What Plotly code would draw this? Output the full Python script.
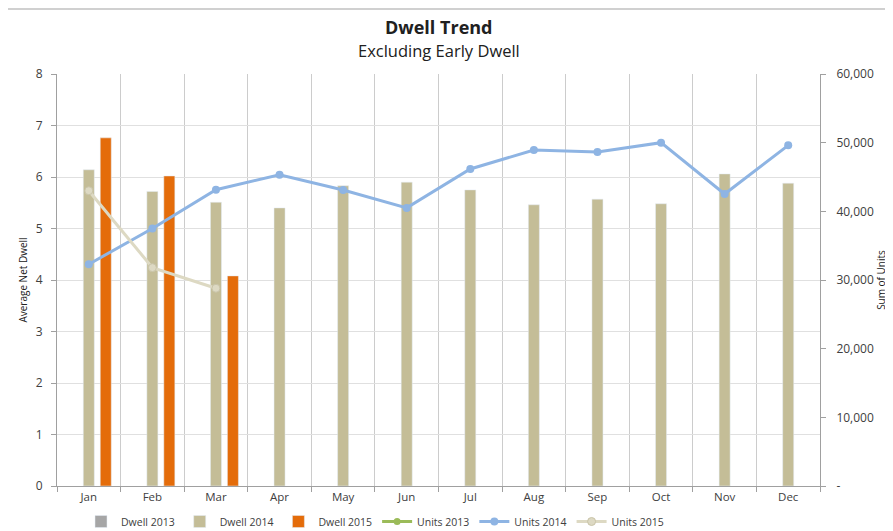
import plotly.graph_objects as go

months = ["Jan", "Feb", "Mar", "Apr", "May", "Jun", "Jul", "Aug", "Sep", "Oct", "Nov", "Dec"]
dwell_2013 = [None] * 12
dwell_2014 = [6.14, 5.72, 5.51, 5.40, 5.83, 5.90, 5.75, 5.46, 5.57, 5.48, 6.06, 5.88]
dwell_2015 = [6.76, 6.02, 4.08, None, None, None, None, None, None, None, None, None]
units_2013 = [None] * 12
units_2014 = [32300, 37500, 43150, 45340, 43100, 40500, 46170, 48930, 48640, 50000, 42520, 49610]
units_2015 = [43000, 31800, 28800, None, None, None, None, None, None, None, None, None]
right_ticks = [0, 10000, 20000, 30000, 40000, 50000, 60000]
right_labels = ["-", "10,000", "20,000", "30,000", "40,000", "50,000", "60,000"]

FONT = "Open Sans"
W, H = 885, 523
L, R, T, B = 49, 73, 66, 45
PW, PH = W - L - R, H - T - B

fig = go.Figure()
fig.add_trace(go.Bar(x=months, y=dwell_2013, name="Dwell 2013", marker_color="#A6A6A6"))
fig.add_trace(go.Bar(x=months, y=dwell_2014, name="Dwell 2014", marker_color="#C4BD97"))
fig.add_trace(go.Bar(x=months, y=dwell_2015, name="Dwell 2015", marker_color="#E46C0A"))
fig.add_trace(go.Scatter(x=months, y=units_2013, name="Units 2013", yaxis="y2", mode="lines+markers",
                         line=dict(color="#9BBB59", width=3), marker=dict(size=7)))
fig.add_trace(go.Scatter(x=months, y=units_2014, name="Units 2014", yaxis="y2", mode="lines+markers",
                         line=dict(color="#8EB4E3", width=3), marker=dict(size=8)))
fig.add_trace(go.Scatter(x=months, y=units_2015, name="Units 2015", yaxis="y2", mode="lines+markers",
                         line=dict(color="#DDD9C3", width=3), marker=dict(size=8, line=dict(color="#C9C4A8", width=1))))

fig.update_layout(
    width=W, height=H,
    margin=dict(l=L, r=R, t=T, b=B, autoexpand=False),
    paper_bgcolor="white", plot_bgcolor="white",
    font=dict(family=FONT, size=11, color="#404040"),
    barmode="group", bargap=0.2, bargroupgap=0.35,
    showlegend=True,
    legend=dict(orientation="h", x=(375 - 8 - L) / PW, xanchor="center", y=-21 / PH, yanchor="top",
                font=dict(size=10.5, color="#404040"), traceorder="normal", itemwidth=30),
    xaxis=dict(type="category", range=[-0.5, 11.5], autorange=False, tickson="boundaries",
               showgrid=True, gridcolor="#CCCCCC", automargin=False,
               showline=True, linecolor="#A0A0A0", ticks="outside", ticklen=5, tickcolor="#A0A0A0",
               tickfont=dict(size=11.5)),
    yaxis=dict(range=[0, 8], dtick=1, showgrid=True, gridcolor="#E0E0E0", zeroline=False, automargin=False,
               showline=True, linecolor="#A0A0A0", ticks="outside", ticklen=5, tickcolor="#A0A0A0",
               ticklabelstandoff=6, tickfont=dict(size=12),
               title=dict(text="Average Net Dwell", font=dict(size=10, color="#202020"), standoff=6)),
    yaxis2=dict(range=[0, 60000], overlaying="y", side="right", tickvals=right_ticks, ticktext=right_labels,
                showgrid=False, zeroline=False, showline=True, linecolor="#A0A0A0", ticks="outside",
                ticklen=5, tickcolor="#A0A0A0", automargin=False, ticklabelstandoff=8, tickfont=dict(size=12),
                title=dict(text="Sum of Units", font=dict(size=10, color="#202020"), standoff=4)),
)
fig.add_annotation(text="<b>Dwell Trend</b>", xref="paper", yref="paper", x=0.5, y=1.0 + (74 - 27) / PH,
                   showarrow=False, font=dict(size=18, color="#202020"), yanchor="middle")
fig.add_annotation(text="Excluding Early Dwell", xref="paper", yref="paper", x=0.5, y=1.0 + (74 - 50) / PH,
                   showarrow=False, font=dict(size=16.5, color="#202020"), yanchor="middle")
fig.add_shape(type="line", xref="paper", yref="paper", x0=-L / PW, x1=1 + R / PW,
              y0=1 + (T - 1) / PH, y1=1 + (T - 1) / PH, line=dict(color="#D0D0D0", width=2))
fig.write_html("out.html")
